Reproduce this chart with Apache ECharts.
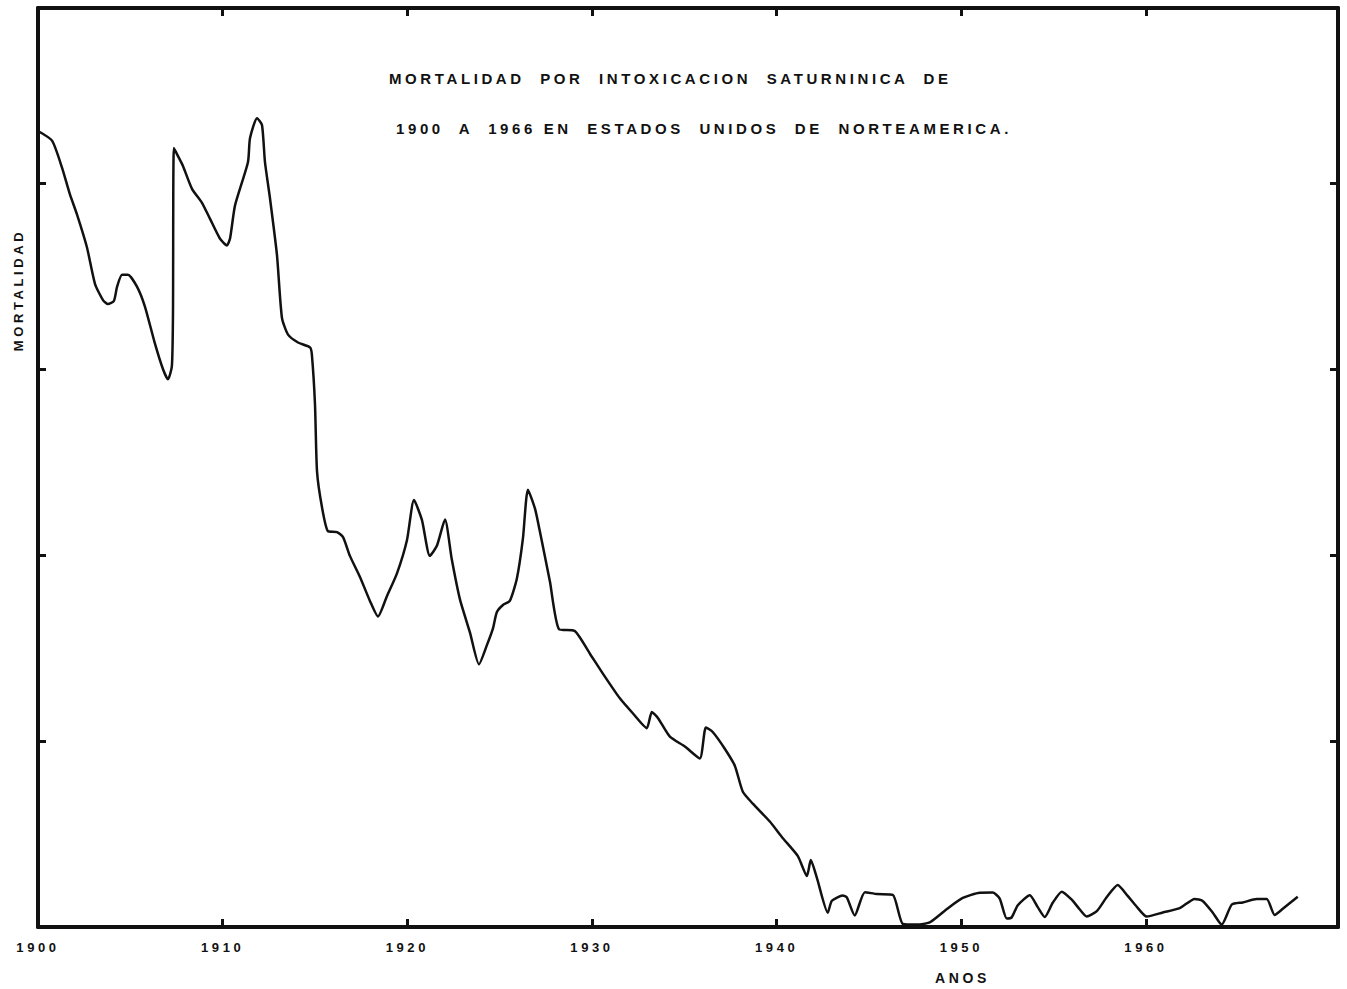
<!DOCTYPE html>
<html><head><meta charset="utf-8">
<script src="https://cdn.jsdelivr.net/npm/echarts@6/dist/echarts.min.js"></script>
<style>
html,body{margin:0;padding:0;background:#fff;}
#c{width:1347px;height:989px;}
#c text{letter-spacing:3.6px !important;}
</style></head><body><div id="c"></div>
<script>
// Data (year, mortality in chart units)
const years = [1900.00,1900.76,1901.30,1901.73,1902.11,1902.65,1903.09,1903.52,1903.79,1904.11,1904.28,1904.55,1904.87,1905.36,1905.79,1906.33,1906.77,1907.04,1907.25,1907.31,1907.36,1907.58,1907.85,1908.34,1908.88,1909.31,1909.85,1910.23,1910.40,1910.67,1911.37,1911.48,1911.86,1912.13,1912.29,1912.56,1912.94,1913.21,1913.54,1914.08,1914.73,1914.83,1915.00,1915.11,1915.38,1915.70,1916.19,1916.52,1916.89,1917.43,1917.97,1918.41,1918.89,1919.44,1919.98,1920.36,1920.79,1921.22,1921.60,1922.04,1922.41,1922.85,1923.39,1923.88,1924.31,1924.63,1924.85,1925.18,1925.55,1925.93,1926.26,1926.53,1926.91,1927.18,1927.72,1928.21,1929.07,1929.89,1930.59,1931.51,1932.21,1932.97,1933.24,1933.57,1934.22,1935.03,1935.84,1936.17,1936.55,1937.20,1937.74,1938.17,1938.71,1939.63,1940.34,1941.15,1941.64,1941.85,1942.18,1942.77,1942.99,1943.58,1943.80,1944.23,1944.78,1945.43,1946.29,1946.83,1947.59,1948.29,1949.21,1950.08,1951.00,1951.71,1952.08,1952.46,1952.73,1953.06,1953.71,1954.14,1954.52,1954.95,1955.44,1955.98,1956.42,1956.79,1957.34,1957.88,1958.47,1959.01,1959.50,1960.04,1960.91,1961.83,1962.64,1963.07,1963.62,1964.10,1964.65,1965.24,1966.00,1966.54,1966.97,1967.41,1968.22];
const values = [4.279,4.227,4.082,3.938,3.831,3.654,3.456,3.370,3.349,3.365,3.441,3.506,3.506,3.442,3.335,3.137,2.998,2.944,3.015,3.300,4.187,4.144,4.091,3.968,3.893,3.808,3.701,3.664,3.701,3.879,4.111,4.240,4.348,4.311,4.113,3.919,3.613,3.275,3.184,3.142,3.116,3.078,2.810,2.449,2.256,2.128,2.123,2.096,1.995,1.883,1.754,1.669,1.777,1.901,2.079,2.295,2.188,1.995,2.049,2.190,1.975,1.761,1.584,1.412,1.515,1.602,1.693,1.731,1.753,1.872,2.088,2.351,2.250,2.126,1.858,1.601,1.591,1.469,1.362,1.229,1.149,1.069,1.156,1.124,1.023,0.970,0.906,1.073,1.047,0.957,0.866,0.727,0.663,0.567,0.477,0.381,0.274,0.360,0.264,0.077,0.141,0.169,0.159,0.062,0.187,0.177,0.173,0.017,0.013,0.025,0.096,0.156,0.184,0.185,0.153,0.046,0.052,0.117,0.171,0.107,0.054,0.130,0.190,0.147,0.094,0.057,0.085,0.161,0.226,0.167,0.109,0.056,0.078,0.101,0.151,0.140,0.077,0.013,0.121,0.132,0.150,0.150,0.065,0.098,0.163];
const xTickYears = [1900,1910,1920,1930,1940,1950,1960];
const yTickValues = [1,2,3,4];
const titleLine1 = 'MORTALIDAD  POR  INTOXICACION  SATURNINICA  DE';
const titleLine2 = '1900  A  1966 EN  ESTADOS  UNIDOS  DE  NORTEAMERICA.';
const xName = 'ANOS';
const yName = 'MORTALIDAD';

const ink = '#111';
const seriesData = years.map((y, i) => [y, values[i]]);
const axisLineStyle = {show: true, onZero: false, lineStyle: {color: ink, width: 4}};
const tickStyle = {inside: true, length: 8, lineStyle: {color: ink, width: 3}};
const fontFamily = '"Liberation Sans", Arial, sans-serif';

const chart = echarts.init(document.getElementById('c'), null, {renderer: 'svg'});
chart.setOption({
  animation: false,
  backgroundColor: '#fff',
  textStyle: {fontFamily: fontFamily},
  title: [
    {text: titleLine1, left: 384, top: 66, textStyle: {fontSize: 15, fontWeight: 'bold', color: ink, fontFamily: fontFamily}},
    {text: titleLine2, left: 391, top: 116, textStyle: {fontSize: 15, fontWeight: 'bold', color: ink, fontFamily: fontFamily}},
    {text: xName, left: 930, top: 966, textStyle: {fontSize: 14, fontWeight: 'bold', color: ink, fontFamily: fontFamily}}
  ],
  graphic: [{
    type: 'text', x: 18, y: 290, rotation: Math.PI / 2,
    style: {text: yName, fontSize: 13, fontWeight: 'bold', fill: ink, align: 'center', verticalAlign: 'middle', fontFamily: fontFamily}
  }],
  grid: {left: 38, right: 9, top: 8, bottom: 62, containLabel: false},
  xAxis: [
    {type: 'value', position: 'bottom', min: 1900, max: 1970.4,
     axisLine: axisLineStyle, splitLine: {show: false},
     axisTick: Object.assign({customValues: xTickYears}, tickStyle),
     axisLabel: {customValues: xTickYears, formatter: v => String(Math.round(v)), margin: 14, fontSize: 13, fontWeight: 'bold', color: ink, fontFamily: fontFamily}},
    {type: 'value', position: 'top', min: 1900, max: 1970.4,
     axisLine: axisLineStyle, splitLine: {show: false},
     axisTick: Object.assign({customValues: xTickYears.slice(1)}, tickStyle),
     axisLabel: {show: false}}
  ],
  yAxis: [
    {type: 'value', position: 'left', min: 0, max: 4.94,
     axisLine: axisLineStyle, splitLine: {show: false},
     axisTick: Object.assign({customValues: yTickValues}, tickStyle),
     axisLabel: {show: false}},
    {type: 'value', position: 'right', min: 0, max: 4.94,
     axisLine: axisLineStyle, splitLine: {show: false},
     axisTick: Object.assign({customValues: yTickValues}, tickStyle),
     axisLabel: {show: false}}
  ],
  series: [{
    type: 'line', xAxisIndex: 0, yAxisIndex: 0,
    data: seriesData, showSymbol: false, symbol: 'none',
    smooth: 0.2,
    lineStyle: {color: ink, width: 2.5}
  }]
});
</script></body></html>
